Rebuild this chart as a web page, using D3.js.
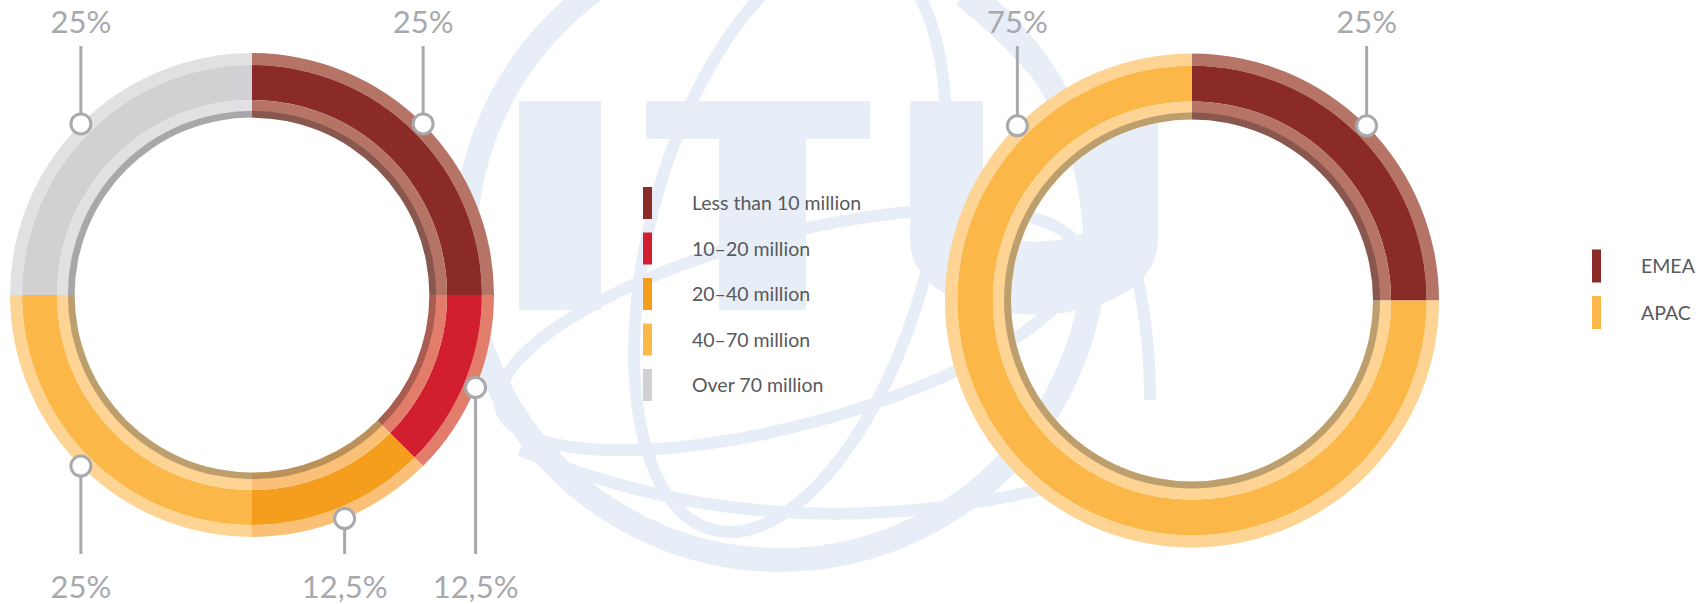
<!DOCTYPE html>
<html>
<head>
<meta charset="utf-8">
<script src="https://cdn.jsdelivr.net/npm/d3@7"></script>
<style>
  html, body { margin: 0; padding: 0; background: #fff; overflow: hidden; }
  text { font-family: Lato, "Open Sans", sans-serif; }
</style>
</head>
<body>
<div id="chart"></div>
<script>
const width = 1707;
const height = 604;

// left donut: operators by subscriber base
const sizeCategories = ["Less than 10 million", "10–20 million", "20–40 million", "40–70 million", "Over 70 million"];
const sizeShares = [25, 12.5, 12.5, 25, 25];
const sizeLabels = ["25%", "12,5%", "12,5%", "25%", "25%"];

// right donut: operators by region
const regionCategories = ["EMEA", "APAC"];
const regionShares = [25, 75];
const regionLabels = ["25%", "75%"];

const sizeMain = d3.scaleOrdinal().domain(sizeCategories)
  .range(["#8b2b27", "#d11f2f", "#f59e1e", "#fbb848", "#d1d0d2"]);
const sizeLight = d3.scaleOrdinal().domain(sizeCategories)
  .range(["#b67467", "#e27d6b", "#fbc077", "#fdd493", "#e1e1e3"]);
const regionMain = d3.scaleOrdinal().domain(regionCategories)
  .range(["#8b2b27", "#fbb848"]);
const regionLight = d3.scaleOrdinal().domain(regionCategories)
  .range(["#b67467", "#fdd493"]);

const labelGrey = "#a7a9ac";

const svg = d3.select("#chart")
  .append("svg")
  .attr("width", width)
  .attr("height", height)
  .attr("viewBox", `0 0 ${width} ${height}`);

// faint ITU watermark behind everything
const wmColor = "#e8eef7";
const wm = svg.append("g");
const globe = wm.append("g").attr("fill", "none").attr("stroke", wmColor);
globe.append("circle").attr("cx", 780).attr("cy", 245).attr("r", 315).attr("stroke-width", 24);
globe.append("ellipse").attr("cx", 790).attr("cy", 240).attr("rx", 140).attr("ry", 300)
  .attr("transform", "rotate(15 790 240)").attr("stroke-width", 12);
globe.append("ellipse").attr("cx", 790).attr("cy", 330).attr("rx", 300).attr("ry", 95)
  .attr("transform", "rotate(-15 790 330)").attr("stroke-width", 12);
globe.append("path").attr("d", "M 520 450 Q 780 560 1080 480").attr("stroke-width", 12);
globe.append("path").attr("d", "M 960 0 Q 1150 150 1150 400").attr("stroke-width", 12);
wm.append("rect").attr("x", 519).attr("y", 101).attr("width", 82).attr("height", 209).attr("fill", wmColor);
wm.append("rect").attr("x", 646).attr("y", 101).attr("width", 224).attr("height", 38).attr("fill", wmColor);
wm.append("rect").attr("x", 719).attr("y", 101).attr("width", 87).attr("height", 209).attr("fill", wmColor);
wm.append("path").attr("d", "M 946.5 101 V 240 A 87.5 38 0 0 0 1121.5 240 V 101")
  .attr("fill", "none").attr("stroke", wmColor).attr("stroke-width", 73);

function drawDonut(cats, values, labels, mainScale, lightScale, cx, cy, r0) {
  const data = cats.map((c, i) => ({ cat: c, value: values[i], label: labels[i] }));
  const arcs = d3.pie().sort(null).value(d => d.value)(data);

  const r1 = r0 * 0.95;
  const r2 = r0 * 0.806;
  const r3 = r0 * 0.761;
  const r4 = r0 * 0.733;

  const g = svg.append("g").attr("transform", `translate(${cx}, ${cy})`);

  const outerBand = d3.arc().innerRadius(r1).outerRadius(r0);
  const mainBand = d3.arc().innerRadius(r2).outerRadius(r1);
  const innerBand = d3.arc().innerRadius(r4).outerRadius(r2);
  const shadow = d3.arc().innerRadius(r4).outerRadius(r3);

  g.selectAll(".outer").data(arcs).join("path")
    .attr("d", outerBand).attr("fill", d => lightScale(d.data.cat));
  g.selectAll(".main").data(arcs).join("path")
    .attr("d", mainBand).attr("fill", d => mainScale(d.data.cat));
  g.selectAll(".inner").data(arcs).join("path")
    .attr("d", innerBand).attr("fill", d => lightScale(d.data.cat));
  g.selectAll(".shadow").data(arcs).join("path")
    .attr("d", shadow).attr("fill", "rgba(0,0,0,0.25)");

  // callout sits in the middle of the last quarter the slice reaches
  const q = Math.PI / 2;
  arcs.forEach(d => {
    const lastQ = Math.ceil(d.endAngle / q - 1e-9) - 1;
    const a0 = Math.max(d.startAngle, lastQ * q);
    const a = (a0 + d.endAngle) / 2;
    const x = r0 * Math.sin(a);
    const y = -r0 * Math.cos(a);
    const up = y < 0;
    const lineEnd = up ? 46 - cy : 554 - cy;
    const textY = up ? 33 - cy : 598 - cy;

    g.append("line")
      .attr("x1", x).attr("x2", x)
      .attr("y1", y).attr("y2", lineEnd)
      .attr("stroke", labelGrey)
      .attr("stroke-width", 3);
    g.append("circle")
      .attr("cx", x).attr("cy", y).attr("r", 10)
      .attr("fill", "#fff")
      .attr("stroke", labelGrey)
      .attr("stroke-width", 3);
    g.append("text")
      .attr("x", x).attr("y", textY)
      .attr("text-anchor", "middle")
      .attr("fill", labelGrey)
      .attr("font-size", 31)
      .attr("font-weight", 400)
      .text(d.data.label);
  });
}

function drawLegend(cats, colorScale, x, y, step, swatchH) {
  const g = svg.append("g").attr("transform", `translate(${x}, ${y})`);
  const items = g.selectAll("g").data(cats).join("g")
    .attr("transform", (d, i) => `translate(0, ${i * step})`);
  items.append("rect")
    .attr("width", 9).attr("height", swatchH)
    .attr("fill", d => colorScale(d));
  items.append("text")
    .attr("x", 49).attr("y", swatchH / 2 + 7)
    .attr("fill", "#58595b")
    .attr("font-size", 19.5)
    .text(d => d);
}

drawDonut(sizeCategories, sizeShares, sizeLabels, sizeMain, sizeLight, 252, 295, 242);
drawDonut(regionCategories, regionShares, regionLabels, regionMain, regionLight, 1192, 300.5, 247);

drawLegend(sizeCategories, sizeMain, 643, 187, 45.5, 32);
drawLegend(regionCategories, regionMain, 1592, 249.5, 46.5, 33);
</script>
</body>
</html>
